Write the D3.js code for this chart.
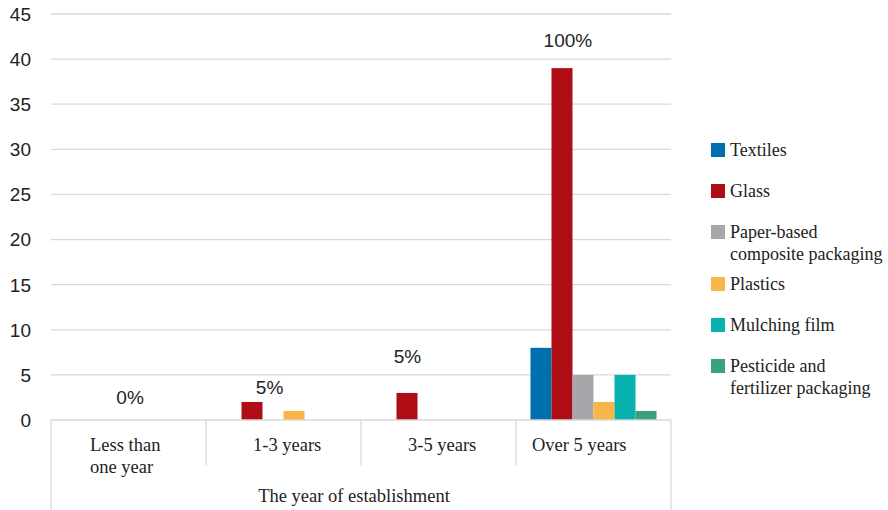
<!DOCTYPE html>
<html><head><meta charset="utf-8">
<script src="https://cdn.jsdelivr.net/npm/d3@7"></script>
<style>body{margin:0;background:#fff}svg{display:block}</style>
</head><body><svg id="c" width="888" height="510"></svg>
<script>
const categories = ["Less than one year", "1-3 years", "3-5 years", "Over 5 years"];
const categoryLines = [["Less than", "one year"], ["1-3 years"], ["3-5 years"], ["Over 5 years"]];
const series = ["Textiles", "Glass", "Paper-based composite packaging", "Plastics", "Mulching film", "Pesticide and fertilizer packaging"];
const legendLines = [["Textiles"], ["Glass"], ["Paper-based", "composite packaging"], ["Plastics"], ["Mulching film"], ["Pesticide and", "fertilizer packaging"]];
const colors = ["#006fad", "#ae0d16", "#a6a7ab", "#f9b54a", "#07b1ae", "#39a17e"];
// one array per series, one value per category
const textiles  = [0, 0, 0, 8];
const glass     = [0, 2, 3, 39];
const paper     = [0, 0, 0, 5];
const plastics  = [0, 1, 0, 2];
const mulching  = [0, 0, 0, 5];
const pesticide = [0, 0, 0, 1];
const seriesValues = [textiles, glass, paper, plastics, mulching, pesticide];
const pctLabels = ["0%", "5%", "5%", "100%"];
const pctLabelLevel = [2.55, 3.66, 7.09, 42.1];
const yTicks = [0, 5, 10, 15, 20, 25, 30, 35, 40, 45];
const axisTitle = "The year of establishment";

const SERIF = "'Liberation Serif', 'Times New Roman', serif";
const SANS = "'Liberation Sans', Arial, sans-serif";
const svg = d3.select("#c");
const mLeft = 51, mRight = 671, mTop = 14, mBase = 420;
const x = d3.scaleBand().domain(categories).range([mLeft, mRight]).padding(0);
const x1 = d3.scaleBand().domain(series).range([0, x.bandwidth()]).paddingInner(0).paddingOuter(0.69);
const y = d3.scaleLinear().domain([0, 45]).range([mBase, mTop]);

// gridlines
svg.append("g").selectAll("line").data(yTicks.filter(d => d > 0)).join("line")
  .attr("x1", mLeft).attr("x2", mRight).attr("y1", d => y(d)).attr("y2", d => y(d))
  .attr("stroke", "#d9d9d9").attr("stroke-width", 1.3);

// y axis labels
svg.append("g").selectAll("text").data(yTicks).join("text")
  .attr("x", 31).attr("y", d => y(d)).attr("dy", "0.36em")
  .attr("text-anchor", "end").style("font-family", SANS)
  .attr("font-size", 19).attr("fill", "#222").text(d => d);

// bars
const bars = [];
categories.forEach((c, ci) => series.forEach((s, si) => bars.push({c, s, si, v: seriesValues[si][ci]})));
svg.append("g").selectAll("rect").data(bars.filter(d => d.v > 0)).join("rect")
  .attr("x", d => x(d.c) + x1(d.s)).attr("width", x1.bandwidth())
  .attr("y", d => y(d.v)).attr("height", d => y(0) - y(d.v))
  .attr("fill", d => colors[d.si]);

// category axis lines
const ax = svg.append("g").attr("stroke", "#d9d9d9").attr("stroke-width", 1.3);
ax.append("line").attr("x1", mLeft).attr("x2", mRight).attr("y1", mBase).attr("y2", mBase);
categories.forEach((c, i) => {
  const xx = x(c);
  ax.append("line").attr("x1", xx).attr("x2", xx).attr("y1", mBase).attr("y2", i === 0 ? 510 : 465);
});
ax.append("line").attr("x1", mRight).attr("x2", mRight).attr("y1", mBase).attr("y2", 510);

// category labels
const catOffset = [39, 47, 47, 16];
categoryLines.forEach((lines, i) => {
  const t = svg.append("text").style("font-family", SERIF)
    .attr("font-size", 18.5).attr("fill", "#222");
  lines.forEach((ln, k) => t.append("tspan").attr("x", x(categories[i]) + catOffset[i]).attr("y", 451 + k * 22).text(ln));
});
svg.append("text").attr("x", 354).attr("y", 502).attr("text-anchor", "middle")
  .style("font-family", SERIF).attr("font-size", 18.5).attr("fill", "#222")
  .text(axisTitle);

// percentage labels
const pctFrac = [0.51, 0.41, 0.30, 0.335];
svg.append("g").selectAll("text").data(pctLabels).join("text")
  .attr("x", (d, i) => x(categories[i]) + x.bandwidth() * pctFrac[i])
  .attr("y", (d, i) => y(pctLabelLevel[i])).attr("dy", "0.36em")
  .attr("text-anchor", "middle").style("font-family", SANS)
  .attr("font-size", 19).attr("fill", "#222").text(d => d);

// legend
let ly = 150;
legendLines.forEach((lines, i) => {
  svg.append("rect").attr("x", 711).attr("y", ly - 7).attr("width", 14).attr("height", 14).attr("fill", colors[i]);
  const t = svg.append("text").style("font-family", SERIF)
    .attr("font-size", 18).attr("fill", "#222");
  lines.forEach((ln, k) => t.append("tspan").attr("x", 730).attr("y", ly + k * 22).attr("dy", "0.35em").text(ln));
  ly += 41 + (lines.length - 1) * 11;
});
</script></body></html>
